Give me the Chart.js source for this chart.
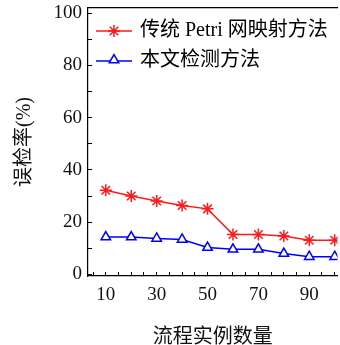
<!DOCTYPE html>
<html>
<head>
<meta charset="utf-8">
<script src="https://cdn.jsdelivr.net/npm/chart.js@4/dist/chart.umd.min.js"></script>
<style>
	html, body { margin: 0; padding: 0; background: #fff; overflow: hidden; }
	#wrap { width: 345px; height: 345px; }
</style>
</head>
<body>
<div id="wrap"><canvas id="chart" width="345" height="345"></canvas></div>
<script>
( function () {
	'use strict';

	var instances = [ 10, 20, 30, 40, 50, 60, 70, 80, 90, 100 ];
	var petriRate = [ 32.2, 30.0, 28.1, 26.4, 25.1, 15.3, 15.3, 14.7, 13.1, 13.1 ];
	var ourRate = [ 14.3, 14.3, 13.8, 13.4, 10.3, 9.6, 9.6, 8.0, 6.8, 6.8 ];
	var seriesNames = [ '传统 Petri 网映射方法', '本文检测方法' ];
	var xTickValues = [ 5, 10, 15, 20, 25, 30, 35, 40, 45, 50, 55, 60, 65, 70, 75, 80, 85, 90, 95, 100 ];
	var xTickLabels = [ 10, 30, 50, 70, 90 ];
	var yTickValues = [ 0, 10, 20, 30, 40, 50, 60, 70, 80, 90, 100 ];
	var yTickLabels = [ 0, 20, 40, 60, 80, 100 ];

	var serif = '"Liberation Serif", "Noto Sans CJK SC", serif';
	var red = '#ff1a1a';
	var blue = '#0000ff';

	// legend icon: short line with the marker in the middle
	function legendIcon( color, style ) {
		var c = document.createElement( 'canvas' );
		c.width = 36;
		c.height = 16;
		var ctx = c.getContext( '2d' );
		ctx.strokeStyle = color;
		ctx.fillStyle = '#fff';
		ctx.lineWidth = 1.5;
		ctx.beginPath();
		ctx.moveTo( 0, 8 );
		ctx.lineTo( 36, 8 );
		ctx.stroke();
		Chart.helpers.drawPoint( ctx, {
			pointStyle: style,
			radius: style === 'triangle' ? 5.5 : 6,
			borderWidth: 1.5,
			rotation: 0,
		}, 18, style === 'triangle' ? 7 : 8 );
		return c;
	}

	function tickMarks( values ) {
		return function ( scale ) {
			scale.ticks = values.map( function ( v ) {
				return { value: v };
			} );
		};
	}

	function fixSize( prop, size ) {
		return function ( scale ) {
			scale[ prop ] = size;
			scale.paddingTop = 0;
			scale.paddingBottom = 0;
			scale.paddingLeft = 0;
			scale.paddingRight = 0;
		};
	}

	// push the legend a bit further into the plot
	var legendOffset = {
		id: 'legendOffset',
		afterLayout: function ( chart ) {
			if ( chart.legend ) {
				chart.legend.top += 11;
				chart.legend.bottom += 11;
			}
		},
	};

	function initChart() {
		var canvas = document.getElementById( 'chart' );
		var icons = [ legendIcon( red, 'star' ), legendIcon( blue, 'triangle' ) ];

		new Chart( canvas, {
			type: 'line',
			data: {
				datasets: [
					{
						label: seriesNames[ 0 ],
						data: instances.map( function ( x, i ) {
							return { x: x, y: petriRate[ i ] };
						} ),
						borderColor: red,
						backgroundColor: red,
						borderWidth: 1.5,
						pointStyle: 'star',
						pointRadius: 6,
						pointBorderWidth: 1.5,
						tension: 0,
					},
					{
						label: seriesNames[ 1 ],
						data: instances.map( function ( x, i ) {
							return { x: x, y: ourRate[ i ] };
						} ),
						borderColor: blue,
						backgroundColor: '#fff',
						borderWidth: 1.5,
						pointStyle: 'triangle',
						pointRadius: 5.5,
						pointBorderWidth: 1.5,
						tension: 0,
					},
				],
			},
			plugins: [ legendOffset ],
			options: {
				responsive: false,
				animation: false,
				layout: { padding: 0 },
				plugins: {
					tooltip: { enabled: false },
					legend: {
						position: 'chartArea',
						align: 'start',
						labels: {
							usePointStyle: true,
							pointStyleWidth: 32,
							padding: 10,
							color: '#111',
							font: { family: serif, size: 20 },
							generateLabels: function () {
								return seriesNames.map( function ( name, i ) {
									return {
										text: name,
										pointStyle: icons[ i ],
										fillStyle: 'transparent',
										strokeStyle: 'transparent',
										lineWidth: 0,
										datasetIndex: i,
									};
								} );
							},
						},
					},
				},
				scales: {
					x: {
						type: 'linear',
						position: 'bottom',
						min: 3,
						max: 101.1,
						afterBuildTicks: tickMarks( xTickValues ),
						afterFit: fixSize( 'height', 69 ),
						border: { color: '#000', width: 1.2 },
						grid: {
							drawOnChartArea: false,
							tickLength: -4,
							color: '#000',
							lineWidth: 1,
						},
						ticks: {
							autoSkip: false,
							maxRotation: 0,
							padding: 12,
							color: '#111',
							font: { family: serif, size: 19 },
							callback: function ( v ) {
								return xTickLabels.indexOf( v ) >= 0 ? String( v ) : '';
							},
						},
						title: {
							display: true,
							text: '流程实例数量',
							color: '#111',
							padding: { top: 0, bottom: -3 },
							font: { family: serif, size: 20, lineHeight: 1 },
						},
					},
					xTop: {
						type: 'linear',
						position: 'top',
						min: 3,
						max: 101.1,
						afterFit: fixSize( 'height', 8 ),
						border: { color: '#000', width: 1.2 },
						grid: { display: false, drawOnChartArea: false },
						ticks: { display: false },
					},
					y: {
						type: 'linear',
						position: 'left',
						min: -0.6,
						max: 102,
						afterBuildTicks: tickMarks( yTickValues ),
						afterFit: fixSize( 'width', 88 ),
						border: { color: '#000', width: 1.2 },
						grid: {
							drawOnChartArea: false,
							tickLength: -4,
							color: '#000',
							lineWidth: 1,
						},
						ticks: {
							autoSkip: false,
							padding: 10,
							color: '#111',
							font: { family: serif, size: 19 },
							callback: function ( v ) {
								return yTickLabels.indexOf( v ) >= 0 ? String( v ) : '';
							},
						},
						title: {
							display: true,
							text: '误检率(%)',
							color: '#111',
							padding: { top: 15, bottom: 0 },
							font: { family: serif, size: 20, lineHeight: 1 },
						},
					},
				},
			},
		} );
	}

	if ( document.readyState === 'loading' ) {
		document.addEventListener( 'DOMContentLoaded', initChart );
	} else {
		initChart();
	}
} )();
</script>
</body>
</html>
